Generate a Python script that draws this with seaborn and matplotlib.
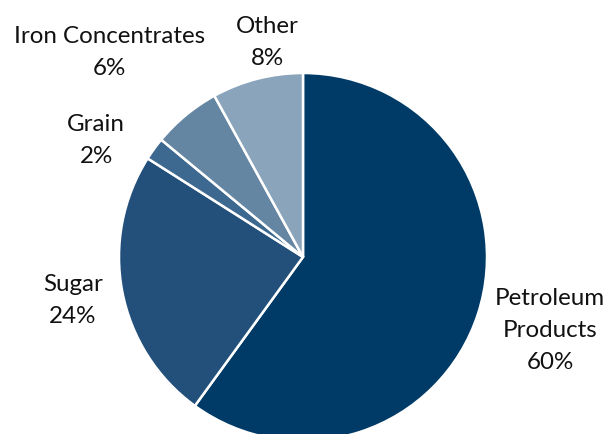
import matplotlib
matplotlib.use("Agg")
import matplotlib.pyplot as plt
import seaborn as sns

categories = ["Petroleum\nProducts", "Sugar", "Grain", "Iron Concentrates", "Other"]
shares = [60, 24, 2, 6, 8]
colors = ["#003a66", "#22507a", "#3d6890", "#6486a3", "#89a4bb"]

sns.set_theme(style="white")
plt.rcParams["font.family"] = ["Lato", "DejaVu Sans"]

fig = plt.figure(figsize=(6.11, 4.34), dpi=100)
# pie centre ~ (303, 257) px, radius ~184 px; bottom runs off the canvas
ax = fig.add_axes([119 / 611, -7 / 434, 368 / 611, 368 / 434])

wedges, _ = ax.pie(shares, colors=colors, startangle=90, counterclock=False,
                   wedgeprops=dict(edgecolor="white", linewidth=1.8))
ax.set_xlim(-1, 1)
ax.set_ylim(-1, 1)
ax.set_aspect("equal")
ax.axis("off")

# label anchor points (data units, pie radius = 1)
label_pos = [(1.342, -0.40), (-1.25, -0.235), (-1.125, 0.635), (-1.05, 1.113), (-0.195, 1.168)]
for name, val, (x, y) in zip(categories, shares, label_pos):
    ax.text(x, y, f"{name}\n{val}%", ha="center", va="center", fontsize=17.4,
            color="#111111", linespacing=1.65, clip_on=False)

fig.savefig("out.png", dpi=100)
